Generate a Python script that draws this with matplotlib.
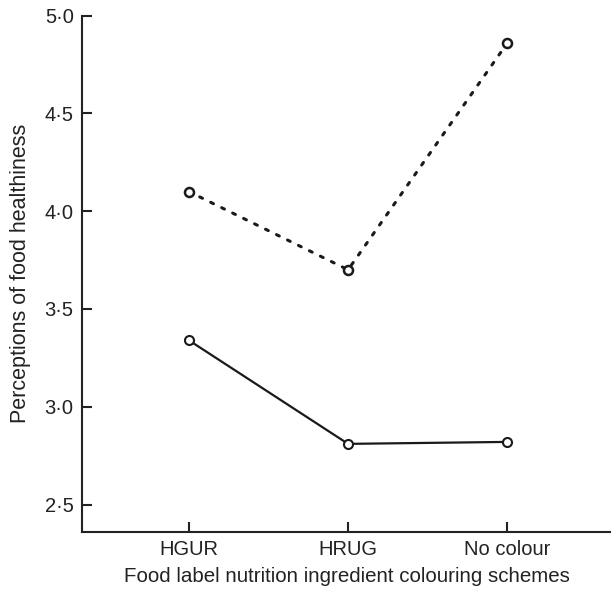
import matplotlib
matplotlib.use("Agg")
import matplotlib.pyplot as plt
from matplotlib.ticker import FuncFormatter

categories = ["HGUR", "HRUG", "No colour"]
series_dotted = [4.10, 3.70, 4.86]
series_solid = [3.34, 2.81, 2.82]
yticks = [2.5, 3.0, 3.5, 4.0, 4.5, 5.0]

plt.rcParams['font.family'] = ['Liberation Sans', 'DejaVu Sans']

fig = plt.figure(figsize=(6.11, 5.92), dpi=100)
ax = fig.add_axes([82/611, 1 - 531.5/592, 1 - 82/611, (531.5 - 15.5)/592])

x = list(range(len(categories)))
ax.plot(x, series_dotted, linestyle=(0, (1, 3)), color='#1a1a1a', linewidth=2.2,
        dash_capstyle='round', marker='o', markersize=6.5, markerfacecolor='white',
        markeredgecolor='#1a1a1a', markeredgewidth=1.8)
ax.plot(x, series_solid, linestyle='-', color='#1a1a1a', linewidth=1.6,
        marker='o', markersize=6.5, markerfacecolor='white',
        markeredgecolor='#1a1a1a', markeredgewidth=1.5)

ax.set_xlim(-0.67, 2.65)
ax.set_ylim(2.362, 5.0)
ax.set_xticks(x)
ax.set_xticklabels(categories)
ax.set_yticks(yticks)
ax.yaxis.set_major_formatter(FuncFormatter(lambda v, p: f"{v:.1f}".replace('.', '\u00b7')))

for s in ['top', 'right']:
    ax.spines[s].set_visible(False)
for s in ['left', 'bottom']:
    ax.spines[s].set_linewidth(1.5)
    ax.spines[s].set_color('#222222')

ax.tick_params(axis='both', direction='in', length=7, width=1.5, color='#222222',
               labelsize=14.5, labelcolor='#222222')
ax.tick_params(axis='y', pad=6)
ax.tick_params(axis='x', pad=6)

ax.set_xlabel("Food label nutrition ingredient colouring schemes", fontsize=14.8,
              color='#222222', labelpad=6)
ax.set_ylabel("Perceptions of food healthiness", fontsize=15.5, color='#222222',
              labelpad=10)

fig.savefig("out.png", dpi=100)
